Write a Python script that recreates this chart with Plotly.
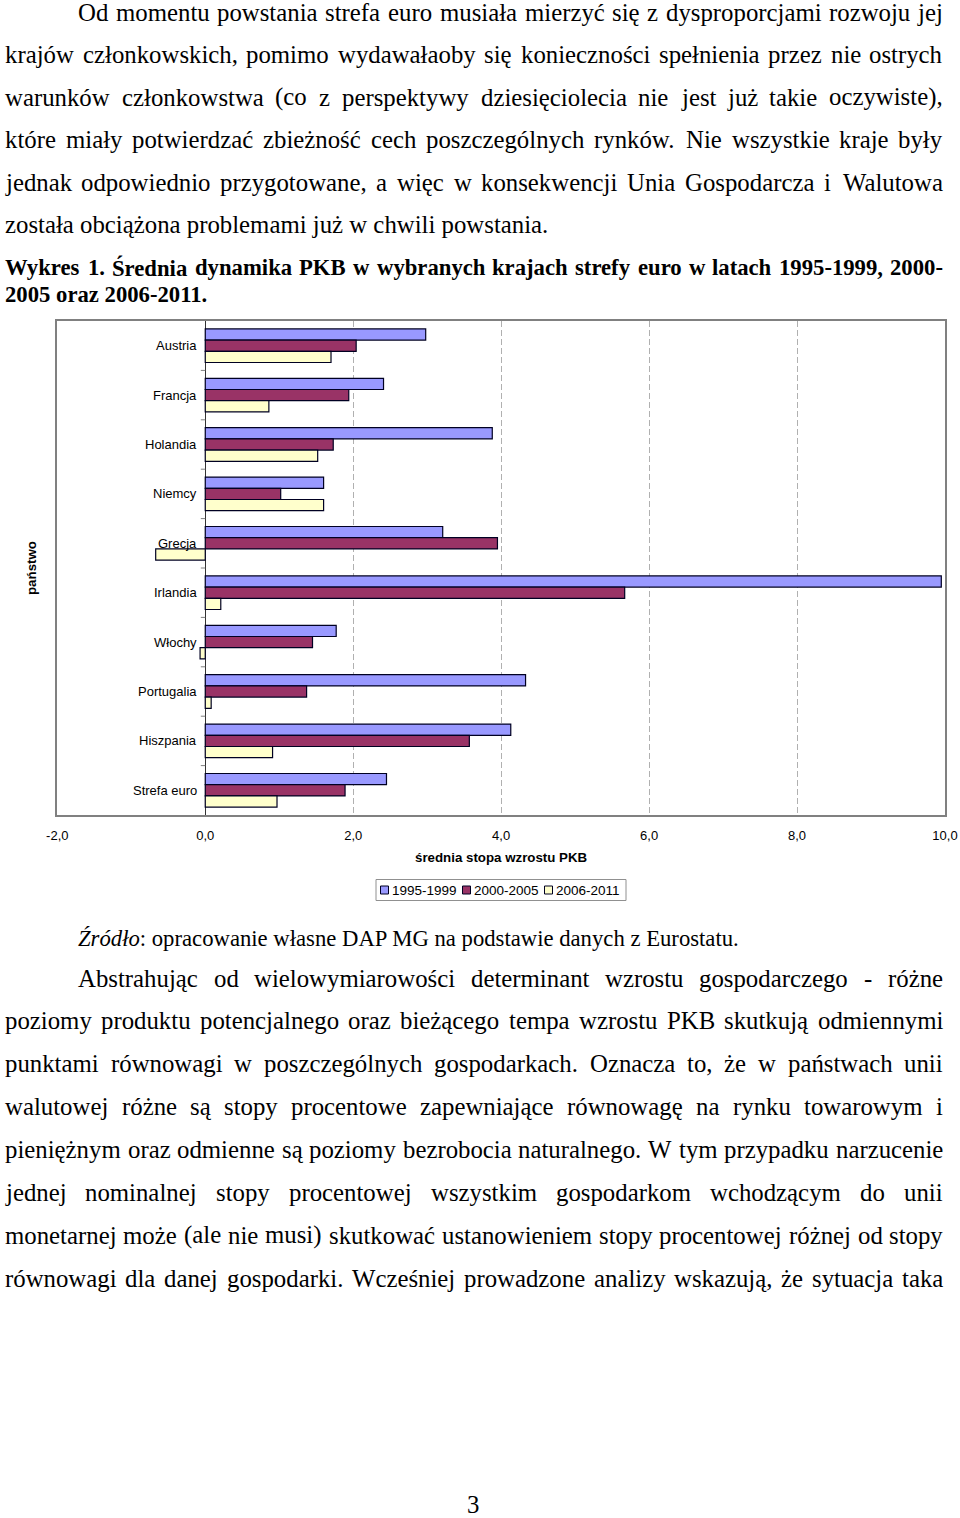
import plotly.graph_objects as go

# ---------------- chart data ----------------
countries = ["Austria", "Francja", "Holandia", "Niemcy", "Grecja", "Irlandia",
             "Włochy", "Portugalia", "Hiszpania", "Strefa euro"]
g_1995_1999 = [2.98, 2.41, 3.88, 1.60, 3.21, 9.95, 1.77, 4.33, 4.13, 2.45]
g_2000_2005 = [2.04, 1.94, 1.73, 1.02, 3.95, 5.67, 1.45, 1.37, 3.57, 1.89]
g_2006_2011 = [1.70, 0.86, 1.52, 1.60, -0.67, 0.21, -0.07, 0.08, 0.91, 0.97]
series_names = ["1995-1999", "2000-2005", "2006-2011"]
x_tick_vals = [-2, 0, 2, 4, 6, 8, 10]
x_tick_text = ["-2,0", "0,0", "2,0", "4,0", "6,0", "8,0", "10,0"]
x_title = "średnia stopa wzrostu PKB"
y_title = "państwo"

# ---------------- page text ----------------
para1 = [
    "Od momentu powstania strefa euro musiała mierzyć się z dysproporcjami rozwoju jej",
    "krajów członkowskich, pomimo wydawałaoby się konieczności spełnienia przez nie ostrych",
    "warunków członkowstwa (co z perspektywy dziesięciolecia nie jest już takie oczywiste),",
    "które miały potwierdzać zbieżność cech poszczególnych rynków. Nie wszystkie kraje były",
    "jednak odpowiednio przygotowane, a więc w konsekwencji Unia Gospodarcza i Walutowa",
    "została obciążona problemami już w chwili powstania.",
]
caption = [
    "Wykres 1. Średnia dynamika PKB w wybranych krajach strefy euro w latach 1995-1999, 2000-",
    "2005 oraz 2006-2011.",
]
source_italic = "Źródło"
source_rest = ": opracowanie własne DAP MG na podstawie danych z Eurostatu."
para2 = [
    "Abstrahując od wielowymiarowości determinant wzrostu gospodarczego - różne",
    "poziomy produktu potencjalnego oraz bieżącego tempa wzrostu PKB skutkują odmiennymi",
    "punktami równowagi w poszczególnych gospodarkach. Oznacza to, że w państwach unii",
    "walutowej różne są stopy procentowe zapewniające równowagę na rynku towarowym i",
    "pieniężnym oraz odmienne są poziomy bezrobocia naturalnego. W tym przypadku narzucenie",
    "jednej nominalnej stopy procentowej wszystkim gospodarkom wchodzącym do unii",
    "monetarnej może (ale nie musi) skutkować ustanowieniem stopy procentowej różnej od stopy",
    "równowagi dla danej gospodarki. Wcześniej prowadzone analizy wskazują, że sytuacja taka",
]
page_number = "3"

W, H = 960, 1518


def px(x):
    return x / W


def py(y):
    return 1 - y / H


# Times-compatible advance widths (1/1000 em) used to justify the lines
TR = {' ': 250, ',': 250, '.': 250, '-': 333, '(': 333, ')': 333, ':': 278, ';': 278,
      'A': 722, 'B': 667, 'C': 667, 'D': 722, 'E': 611, 'F': 556, 'G': 722, 'H': 722,
      'I': 333, 'J': 389, 'K': 722, 'L': 611, 'M': 889, 'N': 722, 'O': 722, 'P': 556,
      'Q': 722, 'R': 667, 'S': 556, 'T': 611, 'U': 722, 'V': 722, 'W': 944, 'X': 722,
      'Y': 722, 'Z': 611,
      'a': 444, 'b': 500, 'c': 444, 'd': 500, 'e': 444, 'f': 333, 'g': 500, 'h': 500,
      'i': 278, 'j': 278, 'k': 500, 'l': 278, 'm': 778, 'n': 500, 'o': 500, 'p': 500,
      'q': 500, 'r': 333, 's': 389, 't': 278, 'u': 500, 'v': 500, 'w': 722, 'x': 500,
      'y': 500, 'z': 444,
      'ą': 444, 'ć': 444, 'ę': 444, 'ł': 278, 'ń': 500, 'ó': 500, 'ś': 389, 'ź': 444,
      'ż': 444, 'Ś': 556, 'Ź': 611, 'Ż': 611, 'Ł': 611}
TB = {' ': 250, ',': 250, '.': 250, '-': 333, '(': 333, ')': 333, ':': 333,
      'A': 722, 'B': 667, 'C': 722, 'D': 722, 'E': 667, 'F': 611, 'G': 778, 'H': 778,
      'I': 389, 'J': 500, 'K': 778, 'L': 667, 'M': 944, 'N': 722, 'O': 778, 'P': 611,
      'Q': 778, 'R': 722, 'S': 556, 'T': 667, 'U': 722, 'V': 722, 'W': 1000, 'X': 722,
      'Y': 722, 'Z': 667,
      'a': 500, 'b': 556, 'c': 444, 'd': 556, 'e': 444, 'f': 333, 'g': 500, 'h': 556,
      'i': 278, 'j': 333, 'k': 556, 'l': 278, 'm': 833, 'n': 556, 'o': 500, 'p': 556,
      'q': 556, 'r': 444, 's': 389, 't': 333, 'u': 556, 'v': 500, 'w': 722, 'x': 500,
      'y': 500, 'z': 444, 'Ś': 556, 'ą': 500, 'ę': 444, 'ł': 278, 'ó': 500}


def tw(s, table, fs):
    return sum(table.get(ch, 500) for ch in s) / 1000.0 * fs


SERIF = "Liberation Serif"
SANS = "Liberation Sans"
annotations = []
shapes = []


def add_text(txt, x, baseline, fs, anchor="left"):
    annotations.append(dict(
        text=txt, x=px(x), y=py(baseline - 0.34 * fs), xref="paper", yref="paper",
        xanchor=anchor, yanchor="middle", showarrow=False, borderpad=0, borderwidth=0,
        font=dict(family=SERIF, size=fs, color="black")))


def add_line(line, baseline, left, right, fs, bold=False, justify=True):
    table = TB if bold else TR
    wrap = (lambda s: "<b>" + s + "</b>") if bold else (lambda s: s)
    if not justify:
        add_text(wrap(line), left, baseline, fs)
        return
    words = line.split(" ")
    ws = [tw(w, table, fs) for w in words]
    gap = (right - left - sum(ws)) / (len(words) - 1)
    x = left
    for i, (w, wd) in enumerate(zip(words, ws)):
        if i == len(words) - 1:
            add_text(wrap(w), right, baseline, fs, anchor="right")
        else:
            add_text(wrap(w), x, baseline, fs)
        x += wd + gap


BODY = 24.8
SMALL = 22.7
LEFT, INDENT, RIGHT = 5, 78, 943

for i, line in enumerate(para1):
    add_line(line, 21.0 + 42.4 * i, INDENT if i == 0 else LEFT, RIGHT, BODY,
             justify=(i < len(para1) - 1))
add_line(caption[0], 275.5, LEFT, RIGHT, SMALL, bold=True)
add_line(caption[1], 302, LEFT, RIGHT, SMALL, bold=True, justify=False)
add_text("<i>" + source_italic + "</i>" + source_rest, INDENT, 946.5, SMALL)
for i, line in enumerate(para2):
    add_line(line, 986.5 + 42.9 * i, INDENT if i == 0 else LEFT, RIGHT, BODY)
add_text(page_number, 473, 1512.5, BODY, anchor="center")

# ---------------- chart ----------------
fig = go.Figure()
colors = ["#9999FF", "#993366", "#FFFFCC"]
for name, vals, c in zip(series_names, [g_1995_1999, g_2000_2005, g_2006_2011], colors):
    fig.add_trace(go.Bar(
        y=countries, x=vals, name=name, orientation="h", showlegend=False,
        marker=dict(color=c, line=dict(color="#000022", width=1.2))))

# category labels next to the zero line
for c in countries:
    annotations.append(dict(
        text=c, x=0, y=c, xref="x", yref="y", xanchor="right", yanchor="middle",
        xshift=-8, showarrow=False, borderpad=0, borderwidth=0,
        font=dict(family=SANS, size=13, color="black")))

annotations.append(dict(
    text="<b>" + x_title + "</b>", x=px(501), y=py(857), xref="paper", yref="paper",
    xanchor="center", yanchor="middle", showarrow=False,
    font=dict(family=SANS, size=13.3, color="black")))
annotations.append(dict(
    text="<b>" + y_title + "</b>", x=px(31), y=py(568), xref="paper", yref="paper",
    xanchor="center", yanchor="middle", showarrow=False, textangle=-90,
    font=dict(family=SANS, size=13.3, color="black")))

# small ticks between categories on the zero line
for k in range(len(countries) - 1):
    shapes.append(dict(type="line", xref="x", yref="y", x0=-0.06, x1=0,
                       y0=k + 0.5, y1=k + 0.5, line=dict(color="#808080", width=1)))

# legend box (drawn like the original spreadsheet legend)
shapes.append(dict(type="rect", xref="paper", yref="paper",
                   x0=px(376), x1=px(626), y0=py(900.5), y1=py(879.5),
                   line=dict(color="#909090", width=1), fillcolor="white", layer="above"))
leg_sw_x = [380.5, 462.5, 544.5]
leg_tx_x = [391.5, 473.5, 555.5]
for name, c, sx, tx in zip(series_names, colors, leg_sw_x, leg_tx_x):
    shapes.append(dict(type="rect", xref="paper", yref="paper",
                       x0=px(sx), x1=px(sx + 8), y0=py(894), y1=py(886),
                       line=dict(color="#000022", width=1), fillcolor=c, layer="above"))
    annotations.append(dict(
        text=name, x=px(tx), y=py(890), xref="paper", yref="paper",
        xanchor="left", yanchor="middle", showarrow=False, borderpad=0, borderwidth=0,
        font=dict(family=SANS, size=13.5, color="black")))

fig.update_layout(
    width=W, height=H, margin=dict(l=0, r=0, t=0, b=0, pad=0),
    paper_bgcolor="white", plot_bgcolor="white",
    barmode="group", bargap=0.32, bargroupgap=0,
    showlegend=False,
    font=dict(family=SANS, size=13, color="black"),
    xaxis=dict(domain=[57.3 / W, 945 / W], range=[-2, 10],
               tickmode="array", tickvals=x_tick_vals, ticktext=x_tick_text,
               showgrid=True, gridcolor="#B0B0B0", griddash="6px,3px", gridwidth=1,
               zeroline=True, zerolinecolor="#333333", zerolinewidth=1.3,
               showline=True, linecolor="#808080", linewidth=1.5, mirror=True,
               ticks="", ticklabelstandoff=8, automargin=False,
               tickfont=dict(family=SANS, size=13, color="black"), fixedrange=True),
    yaxis=dict(domain=[1 - 815 / H, 1 - 321 / H], type="category",
               autorange="reversed", showticklabels=False, showgrid=False,
               zeroline=False, showline=True, linecolor="#808080", linewidth=1.5,
               mirror=True, ticks="", automargin=False, fixedrange=True),
    annotations=annotations, shapes=shapes,
)

fig.write_html(
    "out.html",
    config={"displayModeBar": False},
    post_script=("document.documentElement.style.margin='0';"
                 "document.body.style.margin='0';"
                 "document.body.style.padding='0';"
                 "document.documentElement.style.overflow='hidden';"
                 "document.body.style.overflow='hidden';"),
)
